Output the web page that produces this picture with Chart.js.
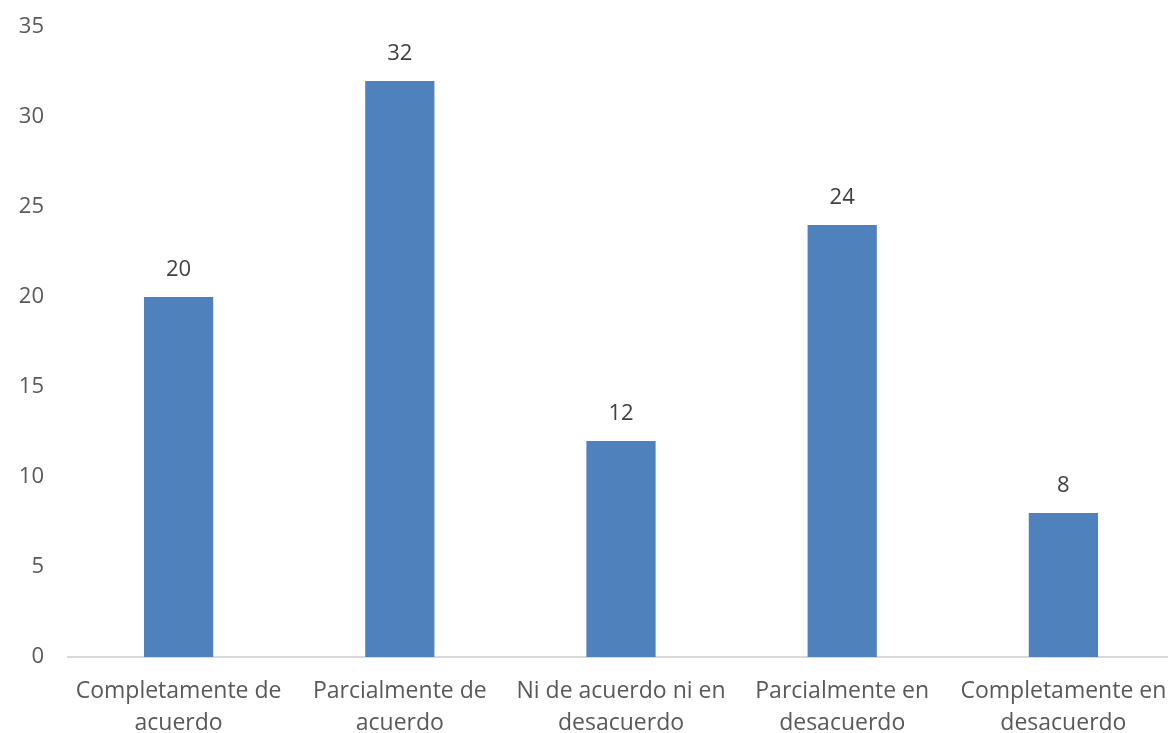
<!DOCTYPE html>
<html>
<head>
<meta charset="utf-8">
<script src="https://cdn.jsdelivr.net/npm/chart.js@4/dist/chart.umd.min.js"></script>
<style>
  html, body { margin: 0; padding: 0; background: #fff; overflow: hidden; }
  /* the original plot runs a few pixels past the right edge of the picture */
  #wrap { width: 1174px; height: 733px; }
</style>
</head>
<body>
<div id="wrap"><canvas id="chart"></canvas></div>
<script>
// categories (wrapped in two lines like the original)
const categories = [
    ['Completamente de', 'acuerdo'],
    ['Parcialmente de', 'acuerdo'],
    ['Ni de acuerdo ni en', 'desacuerdo'],
    ['Parcialmente en', 'desacuerdo'],
    ['Completamente en', 'desacuerdo']
];
const values = [20, 32, 12, 24, 8];
const yMax = 35;
const yStep = 5;

const fontFamily = "'Open Sans', 'Noto Sans', sans-serif";

// draws the number above each bar
const valueLabels = {
    id: 'valueLabels',
    afterDatasetsDraw(chart) {
        const ctx = chart.ctx;
        const meta = chart.getDatasetMeta(0);
        ctx.save();
        ctx.font = '22px ' + fontFamily;
        ctx.fillStyle = '#404040';
        ctx.textAlign = 'center';
        ctx.textBaseline = 'alphabetic';
        meta.data.forEach((bar, i) => {
            ctx.fillText(values[i], bar.x, bar.y - 21);
        });
        ctx.restore();
    }
};

// tick padding also pads the chart area; drop that so the plot fills the canvas
function noOverflowPadding(scale) {
    scale.paddingTop = 0;
    scale.paddingBottom = 0;
    scale.paddingLeft = 0;
    scale.paddingRight = 0;
}

const ctx = document.getElementById('chart').getContext('2d');
new Chart(ctx, {
    type: 'bar',
    data: {
        labels: categories,
        datasets: [{
            data: values,
            backgroundColor: '#4F81BD',
            borderWidth: 0,
            barPercentage: 0.313,
            categoryPercentage: 1
        }]
    },
    options: {
        responsive: true,
        maintainAspectRatio: false,
        animation: false,
        layout: { padding: { top: 27, right: 0, left: 0, bottom: 0 } },
        plugins: {
            legend: { display: false },
            tooltip: { enabled: false }
        },
        scales: {
            x: {
                grid: { display: false, drawTicks: false },
                border: { color: '#d9d9d9', width: 2 },
                ticks: {
                    color: '#595959',
                    font: { family: fontFamily, size: 23, lineHeight: 1.39 },
                    padding: 18,
                    maxRotation: 0,
                    autoSkip: false
                },
                afterFit(scale) {
                    scale.height = 76;
                    noOverflowPadding(scale);
                }
            },
            y: {
                min: 0,
                max: yMax,
                grid: { display: false, drawTicks: false },
                border: { display: false },
                ticks: {
                    stepSize: yStep,
                    color: '#595959',
                    font: { family: fontFamily, size: 22 },
                    padding: 24
                },
                afterFit(scale) {
                    scale.width = 68;
                    noOverflowPadding(scale);
                }
            }
        }
    },
    plugins: [valueLabels]
});
</script>
</body>
</html>
